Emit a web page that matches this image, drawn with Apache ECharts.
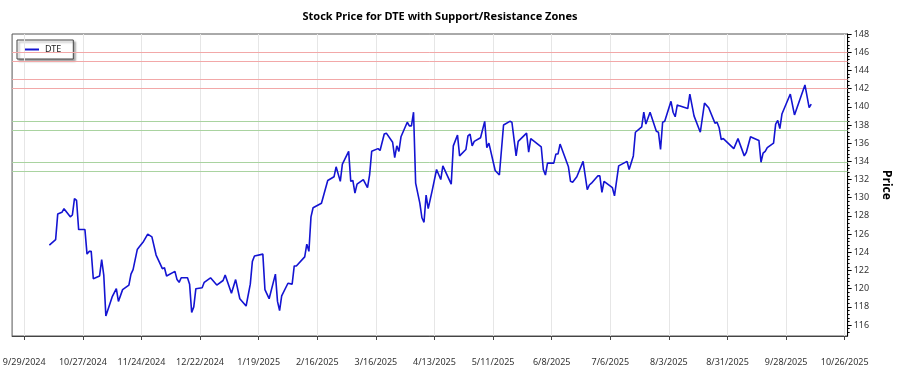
<!DOCTYPE html>
<html>
<head>
<meta charset="utf-8">
<script src="https://cdn.jsdelivr.net/npm/echarts@6/dist/echarts.min.js"></script>
<style>
  html, body { margin: 0; padding: 0; background: #fff; }
  #chart { width: 900px; height: 375px; }
</style>
</head>
<body>
<div id="chart"></div>
<script>
const DATES = [
  '2024-10-11', '2024-10-14', '2024-10-15', '2024-10-17', '2024-10-18', '2024-10-21', '2024-10-22', '2024-10-23',
  '2024-10-24', '2024-10-25', '2024-10-28', '2024-10-29', '2024-10-30', '2024-10-31', '2024-11-01', '2024-11-04',
  '2024-11-05', '2024-11-06', '2024-11-07', '2024-11-10', '2024-11-12', '2024-11-13', '2024-11-15', '2024-11-18',
  '2024-11-19', '2024-11-20', '2024-11-22', '2024-11-23', '2024-11-25', '2024-11-27', '2024-11-29', '2024-12-01',
  '2024-12-04', '2024-12-05', '2024-12-06', '2024-12-10', '2024-12-11', '2024-12-12', '2024-12-13', '2024-12-16',
  '2024-12-17', '2024-12-18', '2024-12-19', '2024-12-20', '2024-12-23', '2024-12-24', '2024-12-27', '2024-12-30',
  '2025-01-02', '2025-01-03', '2025-01-06', '2025-01-08', '2025-01-10', '2025-01-13', '2025-01-15', '2025-01-16',
  '2025-01-17', '2025-01-21', '2025-01-22', '2025-01-24', '2025-01-27', '2025-01-28', '2025-01-29', '2025-01-30',
  '2025-02-02', '2025-02-04', '2025-02-05', '2025-02-06', '2025-02-10', '2025-02-11', '2025-02-12', '2025-02-13',
  '2025-02-14', '2025-02-18', '2025-02-21', '2025-02-24', '2025-02-25', '2025-02-27', '2025-02-28', '2025-03-03',
  '2025-03-04', '2025-03-05', '2025-03-06', '2025-03-07', '2025-03-10', '2025-03-12', '2025-03-13', '2025-03-14',
  '2025-03-17', '2025-03-18', '2025-03-20', '2025-03-21', '2025-03-24', '2025-03-25', '2025-03-26', '2025-03-27',
  '2025-03-28', '2025-03-31', '2025-04-01', '2025-04-02', '2025-04-03', '2025-04-04', '2025-04-06', '2025-04-07',
  '2025-04-08', '2025-04-09', '2025-04-10', '2025-04-12', '2025-04-14', '2025-04-16', '2025-04-17', '2025-04-21',
  '2025-04-22', '2025-04-24', '2025-04-25', '2025-04-28', '2025-04-29', '2025-04-30', '2025-05-01', '2025-05-02',
  '2025-05-05', '2025-05-07', '2025-05-08', '2025-05-09', '2025-05-12', '2025-05-14', '2025-05-16', '2025-05-19',
  '2025-05-20', '2025-05-22', '2025-05-23', '2025-05-27', '2025-05-28', '2025-05-29', '2025-06-03', '2025-06-04',
  '2025-06-05', '2025-06-06', '2025-06-09', '2025-06-10', '2025-06-11', '2025-06-12', '2025-06-16', '2025-06-17',
  '2025-06-18', '2025-06-20', '2025-06-23', '2025-06-25', '2025-06-26', '2025-06-27', '2025-06-30', '2025-07-01',
  '2025-07-02', '2025-07-03', '2025-07-07', '2025-07-08', '2025-07-10', '2025-07-14', '2025-07-15', '2025-07-17',
  '2025-07-18', '2025-07-21', '2025-07-22', '2025-07-23', '2025-07-25', '2025-07-28', '2025-07-29', '2025-07-30',
  '2025-07-31', '2025-08-01', '2025-08-04', '2025-08-05', '2025-08-06', '2025-08-07', '2025-08-08', '2025-08-12',
  '2025-08-13', '2025-08-15', '2025-08-18', '2025-08-20', '2025-08-22', '2025-08-25', '2025-08-26', '2025-08-27',
  '2025-08-28', '2025-08-29', '2025-09-03', '2025-09-05', '2025-09-08', '2025-09-09', '2025-09-11', '2025-09-12',
  '2025-09-15', '2025-09-16', '2025-09-17', '2025-09-18', '2025-09-19', '2025-09-22', '2025-09-23', '2025-09-24',
  '2025-09-25', '2025-09-26', '2025-09-30', '2025-10-02', '2025-10-07', '2025-10-09', '2025-10-10'
]

const PRICES = [
  124.8, 125.4, 128.2, 128.4, 128.8, 127.9, 128.1, 129.9,
  129.7, 126.5, 126.5, 123.8, 124.1, 124.1, 121.1, 121.4,
  123.2, 121.5, 117.0, 119.1, 120.0, 118.6, 119.9, 120.4,
  121.6, 122.1, 124.3, 124.6, 125.2, 126.0, 125.7, 123.7,
  122.2, 122.3, 121.4, 121.9, 121.0, 120.7, 121.2, 121.2,
  120.5, 117.4, 118.0, 120.0, 120.1, 120.7, 121.2, 120.4,
  120.9, 121.5, 119.5, 121.0, 118.9, 118.1, 120.5, 123.0,
  123.6, 123.8, 119.9, 118.9, 121.6, 118.6, 117.6, 119.2,
  120.6, 120.5, 122.5, 122.5, 123.5, 124.9, 124.1, 127.9,
  128.9, 129.4, 131.9, 132.3, 133.4, 131.8, 133.7, 135.1,
  131.8, 131.9, 130.5, 131.5, 132.0, 131.1, 132.5, 135.1,
  135.4, 135.2, 137.0, 137.1, 136.1, 134.4, 135.7, 135.1,
  136.7, 138.3, 137.9, 137.9, 139.4, 131.6, 129.4, 127.8,
  127.3, 130.3, 128.8, 130.9, 133.1, 132.0, 133.5, 131.5,
  135.7, 136.9, 134.6, 135.3, 136.8, 137.0, 135.7, 136.2,
  136.6, 138.4, 135.5, 136.0, 133.0, 132.5, 138.0, 138.4,
  138.3, 134.6, 136.2, 137.1, 135.0, 136.5, 135.6, 133.1,
  132.5, 133.8, 133.8, 134.8, 134.8, 135.9, 133.4, 131.8,
  131.7, 132.3, 134.0, 130.9, 131.4, 131.6, 132.4, 132.4,
  130.6, 131.8, 131.1, 130.2, 133.5, 134.0, 133.1, 134.6,
  137.2, 137.8, 139.4, 138.1, 139.4, 137.3, 137.2, 135.3,
  138.3, 138.4, 140.6, 139.4, 138.9, 140.2, 140.1, 139.8,
  141.4, 139.0, 137.2, 140.4, 139.9, 138.2, 138.3, 137.7,
  136.4, 136.5, 135.4, 136.5, 134.6, 135.0, 136.7, 136.6,
  136.3, 133.9, 134.9, 135.1, 135.5, 136.0, 138.1, 138.5,
  137.6, 139.2, 141.4, 139.1, 142.4, 139.9, 140.3
]

const RESISTANCE = [146, 145, 143, 142]
const SUPPORT = [138.4, 137.4, 133.9, 132.9]

const X_TICKS = [
  '2024-09-29', '2024-10-27', '2024-11-24', '2024-12-22', '2025-01-19', '2025-02-16', '2025-03-16', '2025-04-13',
  '2025-05-11', '2025-06-08', '2025-07-06', '2025-08-03', '2025-08-31', '2025-09-28', '2025-10-26'
]
const Y_TICKS = [116, 118, 120, 122, 124, 126, 128, 130, 132, 134, 136, 138, 140, 142, 144, 146, 148]

const DAY = 86400000
const ts = s => new Date(s + 'T00:00:00Z').getTime()
const xTickTs = X_TICKS.map(ts)
const xMin = ts('2024-09-29') - 5.8 * DAY
const xMax = ts('2025-10-26') + 1.4 * DAY
const yMin = 114.8
const yMax = 148

// small dotted ticks along the price axis
const minorY = []
for (let v = 115.2; v < yMax; v += 0.4) minorY.push(+v.toFixed(1))

function fmtDate(v) {
  const d = new Date(v)
  return (d.getUTCMonth() + 1) + '/' + d.getUTCDate() + '/' + d.getUTCFullYear()
}

const FONT = 'Noto Sans'
const chart = echarts.init(document.getElementById('chart'))

const zoneLines = RESISTANCE.map(v => ({ yAxis: v, lineStyle: { color: '#f2a8a8' } }))
  .concat(SUPPORT.map(v => ({ yAxis: v, lineStyle: { color: '#a9d3a0' } })))

const option = {
  animation: false,
  title: {
    text: 'Stock Price for DTE with Support/Resistance Zones',
    left: 435,
    textAlign: 'center',
    top: 6,
    textStyle: { fontFamily: FONT, fontSize: 11, fontWeight: 'bold', color: '#000' }
  },
  legend: {
    left: 17,
    top: 40,
    orient: 'vertical',
    data: [{ name: 'DTE', icon: 'rect' }],
    backgroundColor: '#fff',
    borderColor: '#444',
    borderWidth: 1,
    borderRadius: 0,
    padding: [5, 12, 5, 7],
    itemWidth: 15,
    itemHeight: 2,
    itemGap: 4,
    shadowColor: 'rgba(0,0,0,0.35)',
    shadowBlur: 2,
    shadowOffsetX: 2,
    shadowOffsetY: 2,
    textStyle: { fontFamily: FONT, fontSize: 9, color: '#222', padding: [0, 0, 0, 1] }
  },
  grid: {
    left: 12, right: 43, top: 34, bottom: 39,
    show: true, borderColor: '#555', borderWidth: 1, backgroundColor: '#fff'
  },
  xAxis: {
    type: 'value',
    min: xMin,
    max: xMax,
    axisLine: { show: true, onZero: false, lineStyle: { color: '#444' } },
    axisTick: { show: true, length: 4, customValues: xTickTs, lineStyle: { color: '#444' } },
    axisLabel: {
      customValues: xTickTs,
      formatter: v => fmtDate(v),
      margin: 22,
      fontFamily: FONT, fontSize: 9, color: '#333'
    },
    splitLine: { show: false }
  },
  yAxis: [{
    type: 'value',
    position: 'right',
    min: yMin,
    max: yMax,
    name: 'Price',
    nameLocation: 'middle',
    nameGap: 26,
    nameRotate: -90,
    nameTextStyle: { fontFamily: FONT, fontSize: 12, fontWeight: 'bold', color: '#000' },
    axisLine: { show: true, onZero: false, lineStyle: { color: '#000' } },
    axisTick: { show: true, length: 4, customValues: Y_TICKS, lineStyle: { color: '#000' } },
    axisLabel: { customValues: Y_TICKS, margin: 6, fontFamily: FONT, fontSize: 9, color: '#333' },
    splitLine: { show: false }
  }, {
    type: 'value',
    position: 'right',
    min: yMin,
    max: yMax,
    axisLine: { show: false },
    axisTick: { show: true, length: 2, customValues: minorY, lineStyle: { color: '#000' } },
    axisLabel: { show: false, customValues: minorY },
    splitLine: { show: false }
  }],
  series: [{
    name: 'grid',
    type: 'line',
    data: [],
    silent: true,
    markLine: {
      symbol: 'none',
      silent: true,
      label: { show: false },
      lineStyle: { color: '#e6e6e6', width: 1, type: 'solid' },
      data: xTickTs.map(t => ({ xAxis: t }))
    }
  }, {
    name: 'zones',
    type: 'line',
    data: [],
    silent: true,
    markLine: {
      symbol: 'none',
      silent: true,
      label: { show: false },
      lineStyle: { width: 1, type: 'solid' },
      data: zoneLines
    }
  }, {
    name: 'DTE',
    type: 'line',
    data: DATES.map((d, i) => [ts(d), PRICES[i]]),
    symbol: 'none',
    color: '#1414d2',
    lineStyle: { color: '#1414d2', width: 1.6 },
    z: 5
  }]
}

chart.setOption(option)
</script>
</body>
</html>
